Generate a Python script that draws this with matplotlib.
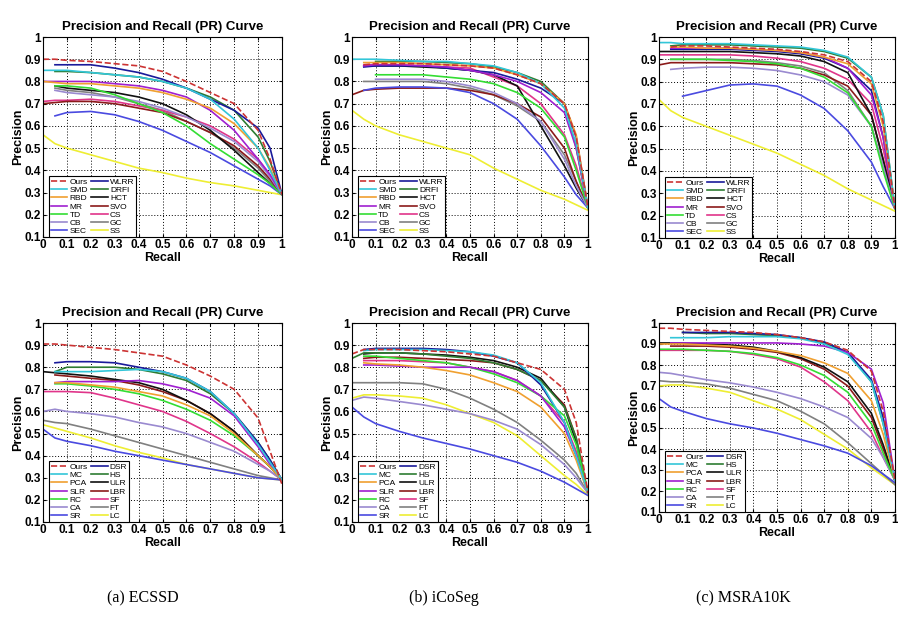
import numpy as np
import matplotlib
matplotlib.use("Agg")
import matplotlib.pyplot as plt

plt.rcParams['font.family'] = ['Liberation Sans', 'DejaVu Sans']

# recall grid shared by every curve (None = curve not drawn there)
recall = [0, 0.05, 0.1, 0.2, 0.3, 0.4, 0.5, 0.6, 0.7, 0.8, 0.9, 0.95, 1.0]

methods_top = ["Ours", "SMD", "RBD", "MR", "TD", "CB", "SEC",
               "WLRR", "DRFI", "HCT", "SVO", "CS", "GC", "SS"]
methods_bottom = ["Ours", "MC", "PCA", "SLR", "RC", "CA", "SR",
                  "DSR", "HS", "ULR", "LBR", "SF", "FT", "LC"]

colors = ["#cc3333", "#33c6d8", "#f0a030", "#a020d0", "#33dd33", "#9a8ad0", "#4a4ae0",
          "#1a1a9a", "#2e7d32", "#111111", "#8b1a1a", "#e0358a", "#808080", "#eeee33"]

captions = ["(a) ECSSD", "(b) iCoSeg", "(c) MSRA10K"]

ecssd_top = {
    "Ours": [0.90, 0.90, 0.895, 0.89, 0.88, 0.87, 0.845, 0.80, 0.75, 0.70, 0.58, 0.45, 0.29],
    "SMD":  [0.85, 0.85, 0.85, 0.84, 0.83, 0.82, 0.80, 0.77, 0.72, 0.63, 0.50, 0.40, 0.29],
    "RBD":  [0.80, 0.795, 0.79, 0.79, 0.78, 0.77, 0.75, 0.72, 0.68, 0.61, 0.50, 0.41, 0.29],
    "MR":   [0.80, 0.80, 0.80, 0.80, 0.79, 0.78, 0.76, 0.73, 0.67, 0.58, 0.45, 0.38, 0.29],
    "TD":   [None, 0.78, 0.78, 0.77, 0.74, 0.70, 0.66, 0.60, 0.52, 0.45, 0.38, 0.34, 0.29],
    "CB":   [None, 0.76, 0.75, 0.74, 0.73, 0.71, 0.68, 0.64, 0.59, 0.53, 0.44, 0.37, 0.29],
    "SEC":  [None, 0.645, 0.66, 0.665, 0.65, 0.62, 0.58, 0.53, 0.48, 0.42, 0.36, 0.33, 0.29],
    "WLRR": [None, 0.875, 0.875, 0.875, 0.86, 0.84, 0.81, 0.77, 0.72, 0.67, 0.59, 0.50, 0.29],
    "DRFI": [None, 0.845, 0.845, 0.84, 0.83, 0.82, 0.80, 0.77, 0.73, 0.67, 0.55, 0.44, 0.29],
    "HCT":  [None, 0.78, 0.77, 0.76, 0.75, 0.73, 0.70, 0.65, 0.58, 0.49, 0.39, 0.34, 0.29],
    "SVO":  [0.70, 0.705, 0.71, 0.71, 0.70, 0.68, 0.66, 0.62, 0.57, 0.51, 0.42, 0.36, 0.29],
    "CS":   [0.71, 0.715, 0.715, 0.72, 0.71, 0.69, 0.67, 0.64, 0.60, 0.54, 0.45, 0.38, 0.29],
    "GC":   [None, 0.77, 0.76, 0.75, 0.73, 0.70, 0.67, 0.62, 0.57, 0.50, 0.41, 0.35, 0.29],
    "SS":   [0.56, 0.52, 0.50, 0.47, 0.44, 0.41, 0.39, 0.365, 0.345, 0.33, 0.31, 0.30, 0.29],
}

icoseg_top = {
    "Ours": [None, 0.875, 0.88, 0.88, 0.88, 0.875, 0.87, 0.86, 0.83, 0.79, 0.70, 0.55, 0.23],
    "SMD":  [0.90, 0.90, 0.90, 0.895, 0.89, 0.89, 0.88, 0.87, 0.84, 0.79, 0.68, 0.52, 0.23],
    "RBD":  [None, 0.885, 0.885, 0.885, 0.88, 0.875, 0.87, 0.86, 0.83, 0.79, 0.70, 0.56, 0.23],
    "MR":   [None, 0.87, 0.875, 0.875, 0.87, 0.865, 0.85, 0.83, 0.80, 0.75, 0.66, 0.50, 0.23],
    "TD":   [None, None, 0.83, 0.83, 0.83, 0.82, 0.81, 0.79, 0.75, 0.68, 0.55, 0.40, 0.23],
    "CB":   [None, None, 0.81, 0.81, 0.81, 0.80, 0.78, 0.75, 0.70, 0.62, 0.45, 0.33, 0.23],
    "SEC":  [None, 0.76, 0.77, 0.775, 0.775, 0.77, 0.75, 0.70, 0.63, 0.51, 0.37, 0.29, 0.23],
    "WLRR": [None, 0.865, 0.87, 0.87, 0.87, 0.86, 0.85, 0.84, 0.81, 0.77, 0.70, 0.55, 0.23],
    "DRFI": [None, None, 0.89, 0.89, 0.89, 0.885, 0.88, 0.865, 0.84, 0.80, 0.70, 0.50, 0.23],
    "HCT":  [None, 0.87, 0.87, 0.87, 0.865, 0.86, 0.85, 0.83, 0.78, 0.60, 0.42, 0.32, 0.23],
    "SVO":  [0.74, 0.76, 0.765, 0.77, 0.77, 0.77, 0.76, 0.74, 0.70, 0.64, 0.50, 0.35, 0.23],
    "CS":   [None, 0.875, 0.875, 0.875, 0.87, 0.865, 0.86, 0.82, 0.78, 0.70, 0.56, 0.42, 0.23],
    "GC":   [None, 0.80, 0.80, 0.80, 0.80, 0.79, 0.77, 0.74, 0.69, 0.62, 0.47, 0.35, 0.23],
    "SS":   [0.67, 0.63, 0.60, 0.56, 0.53, 0.50, 0.47, 0.41, 0.36, 0.31, 0.27, 0.245, 0.22],
}

msra_top = {
    "Ours": [None, 0.955, 0.96, 0.96, 0.955, 0.95, 0.945, 0.935, 0.92, 0.89, 0.80, 0.62, 0.23],
    "SMD":  [0.975, 0.975, 0.97, 0.97, 0.97, 0.965, 0.96, 0.955, 0.94, 0.91, 0.82, 0.65, 0.23],
    "RBD":  [None, 0.955, 0.955, 0.95, 0.95, 0.945, 0.94, 0.93, 0.91, 0.88, 0.79, 0.60, 0.23],
    "MR":   [None, 0.95, 0.95, 0.95, 0.95, 0.945, 0.94, 0.93, 0.91, 0.86, 0.74, 0.55, 0.23],
    "TD":   [None, 0.90, 0.90, 0.90, 0.895, 0.89, 0.88, 0.86, 0.82, 0.75, 0.60, 0.40, 0.23],
    "CB":   [None, 0.855, 0.86, 0.865, 0.865, 0.86, 0.85, 0.83, 0.80, 0.74, 0.60, 0.42, 0.23],
    "SEC":  [None, None, 0.735, 0.76, 0.785, 0.79, 0.78, 0.74, 0.68, 0.58, 0.44, 0.33, 0.23],
    "WLRR": [None, 0.945, 0.945, 0.945, 0.945, 0.94, 0.935, 0.925, 0.905, 0.86, 0.76, 0.55, 0.23],
    "DRFI": [None, 0.96, 0.965, 0.965, 0.965, 0.96, 0.955, 0.95, 0.935, 0.905, 0.82, 0.65, 0.23],
    "HCT":  [0.935, 0.935, 0.935, 0.935, 0.935, 0.93, 0.925, 0.915, 0.89, 0.84, 0.65, 0.45, 0.23],
    "SVO":  [0.875, 0.885, 0.885, 0.885, 0.885, 0.88, 0.875, 0.86, 0.83, 0.78, 0.65, 0.45, 0.23],
    "CS":   [0.92, 0.92, 0.92, 0.92, 0.92, 0.915, 0.905, 0.89, 0.86, 0.81, 0.70, 0.50, 0.23],
    "GC":   [None, 0.90, 0.90, 0.90, 0.90, 0.895, 0.885, 0.87, 0.84, 0.76, 0.60, 0.42, 0.23],
    "SS":   [0.72, 0.67, 0.64, 0.60, 0.56, 0.52, 0.48, 0.43, 0.38, 0.32, 0.27, 0.245, 0.22],
}

ecssd_bottom = {
    "Ours": [0.905, 0.905, 0.90, 0.89, 0.88, 0.865, 0.85, 0.81, 0.76, 0.70, 0.57, 0.42, 0.27],
    "MC":   [None, 0.78, 0.78, 0.78, 0.785, 0.79, 0.78, 0.75, 0.69, 0.59, 0.45, 0.37, 0.29],
    "PCA":  [None, 0.73, 0.73, 0.72, 0.71, 0.69, 0.67, 0.63, 0.58, 0.50, 0.40, 0.35, 0.29],
    "SLR":  [None, 0.73, 0.735, 0.735, 0.735, 0.74, 0.725, 0.70, 0.66, 0.58, 0.44, 0.36, 0.29],
    "RC":   [None, 0.725, 0.725, 0.715, 0.70, 0.68, 0.65, 0.61, 0.56, 0.49, 0.40, 0.35, 0.29],
    "CA":   [0.60, 0.61, 0.60, 0.59, 0.575, 0.55, 0.53, 0.50, 0.46, 0.42, 0.36, 0.33, 0.29],
    "SR":   [0.52, 0.48, 0.465, 0.445, 0.42, 0.40, 0.38, 0.36, 0.34, 0.32, 0.30, 0.295, 0.29],
    "DSR":  [None, 0.82, 0.825, 0.825, 0.82, 0.80, 0.78, 0.75, 0.69, 0.59, 0.46, 0.38, 0.29],
    "HS":   [None, 0.78, 0.80, 0.80, 0.80, 0.79, 0.77, 0.74, 0.68, 0.59, 0.46, 0.38, 0.29],
    "ULR":  [0.78, 0.775, 0.77, 0.76, 0.745, 0.73, 0.70, 0.65, 0.59, 0.51, 0.40, 0.35, 0.29],
    "LBR":  [None, 0.765, 0.76, 0.75, 0.74, 0.72, 0.69, 0.65, 0.59, 0.51, 0.40, 0.35, 0.29],
    "SF":   [0.69, 0.69, 0.69, 0.685, 0.66, 0.63, 0.60, 0.555, 0.50, 0.44, 0.37, 0.33, 0.29],
    "FT":   [0.56, 0.55, 0.545, 0.52, 0.49, 0.46, 0.43, 0.40, 0.37, 0.34, 0.31, 0.30, 0.29],
    "LC":   [0.54, 0.525, 0.51, 0.48, 0.445, 0.415, 0.39, 0.36, 0.34, 0.32, 0.30, 0.295, 0.29],
}

icoseg_bottom = {
    "Ours": [0.86, 0.88, 0.88, 0.88, 0.875, 0.87, 0.86, 0.85, 0.82, 0.79, 0.70, 0.55, 0.23],
    "MC":   [None, 0.875, 0.88, 0.88, 0.88, 0.875, 0.87, 0.855, 0.82, 0.73, 0.55, 0.40, 0.23],
    "PCA":  [None, 0.82, 0.815, 0.81, 0.80, 0.785, 0.765, 0.73, 0.69, 0.62, 0.50, 0.38, 0.23],
    "SLR":  [None, 0.81, 0.81, 0.805, 0.80, 0.80, 0.80, 0.78, 0.74, 0.67, 0.53, 0.40, 0.23],
    "RC":   [None, 0.85, 0.85, 0.84, 0.83, 0.82, 0.80, 0.77, 0.73, 0.67, 0.58, 0.45, 0.23],
    "CA":   [0.65, 0.665, 0.66, 0.645, 0.63, 0.61, 0.59, 0.56, 0.52, 0.45, 0.36, 0.30, 0.23],
    "SR":   [0.62, 0.575, 0.545, 0.51, 0.48, 0.455, 0.43, 0.40, 0.37, 0.33, 0.28, 0.25, 0.22],
    "DSR":  [None, 0.88, 0.885, 0.885, 0.885, 0.88, 0.87, 0.85, 0.82, 0.72, 0.55, 0.40, 0.23],
    "HS":   [0.84, 0.865, 0.865, 0.865, 0.86, 0.85, 0.84, 0.82, 0.79, 0.74, 0.62, 0.48, 0.23],
    "ULR":  [None, 0.86, 0.865, 0.865, 0.86, 0.855, 0.845, 0.83, 0.80, 0.75, 0.62, 0.46, 0.23],
    "LBR":  [None, 0.84, 0.845, 0.845, 0.84, 0.835, 0.83, 0.82, 0.79, 0.74, 0.63, 0.48, 0.23],
    "SF":   [None, 0.83, 0.83, 0.83, 0.825, 0.82, 0.80, 0.78, 0.74, 0.67, 0.55, 0.42, 0.23],
    "FT":   [0.73, 0.73, 0.73, 0.73, 0.725, 0.70, 0.66, 0.61, 0.55, 0.47, 0.38, 0.32, 0.23],
    "LC":   [0.66, 0.675, 0.675, 0.67, 0.66, 0.63, 0.59, 0.55, 0.49, 0.40, 0.31, 0.27, 0.22],
}

msra_bottom = {
    "Ours": [0.975, 0.975, 0.97, 0.965, 0.96, 0.955, 0.945, 0.93, 0.91, 0.87, 0.77, 0.58, 0.25],
    "MC":   [None, 0.93, 0.93, 0.93, 0.935, 0.935, 0.935, 0.925, 0.90, 0.85, 0.72, 0.52, 0.25],
    "PCA":  [0.90, 0.90, 0.90, 0.895, 0.89, 0.88, 0.865, 0.845, 0.81, 0.76, 0.63, 0.47, 0.25],
    "SLR":  [None, 0.905, 0.905, 0.905, 0.905, 0.905, 0.905, 0.90, 0.89, 0.86, 0.78, 0.62, 0.25],
    "RC":   [0.875, 0.875, 0.875, 0.87, 0.865, 0.855, 0.835, 0.80, 0.75, 0.67, 0.52, 0.38, 0.25],
    "CA":   [0.765, 0.76, 0.75, 0.73, 0.715, 0.695, 0.67, 0.64, 0.60, 0.55, 0.45, 0.36, 0.25],
    "SR":   [0.64, 0.60, 0.58, 0.545, 0.52, 0.50, 0.475, 0.445, 0.415, 0.38, 0.32, 0.28, 0.24],
    "DSR":  [None, None, 0.955, 0.955, 0.955, 0.95, 0.945, 0.93, 0.91, 0.86, 0.73, 0.55, 0.25],
    "HS":   [None, None, 0.955, 0.95, 0.95, 0.945, 0.94, 0.93, 0.905, 0.86, 0.72, 0.52, 0.25],
    "ULR":  [0.905, 0.905, 0.905, 0.90, 0.895, 0.885, 0.865, 0.835, 0.79, 0.72, 0.57, 0.42, 0.25],
    "LBR":  [None, 0.89, 0.89, 0.89, 0.885, 0.875, 0.86, 0.83, 0.78, 0.70, 0.55, 0.40, 0.25],
    "SF":   [0.87, 0.87, 0.87, 0.87, 0.865, 0.85, 0.83, 0.79, 0.72, 0.63, 0.48, 0.36, 0.25],
    "FT":   [0.725, 0.72, 0.72, 0.71, 0.69, 0.66, 0.63, 0.58, 0.52, 0.43, 0.33, 0.28, 0.23],
    "LC":   [0.70, 0.705, 0.705, 0.69, 0.67, 0.63, 0.59, 0.54, 0.47, 0.40, 0.31, 0.27, 0.23],
}

W, H = 898, 621
fig = plt.figure(figsize=(W / 100, H / 100), dpi=100)

# axes boxes in pixels: left, top, right, bottom
boxes = [
    (43, 37, 282, 237), (352, 37, 588, 237), (659, 37, 895, 238),
    (43, 323, 282, 522), (352, 323, 588, 522), (659, 323, 895, 512),
]
panels = [
    (ecssd_top, methods_top), (icoseg_top, methods_top), (msra_top, methods_top),
    (ecssd_bottom, methods_bottom), (icoseg_bottom, methods_bottom), (msra_bottom, methods_bottom),
]

for (l, t, r, b), (data, names) in zip(boxes, panels):
    ax = fig.add_axes([l / W, 1 - b / H, (r - l) / W, (b - t) / H])
    # draw in reverse so "Ours" ends up on top
    for i in reversed(range(len(names))):
        name = names[i]
        p = np.array([np.nan if v is None else v for v in data[name]], dtype=float)
        ls = '--' if name == "Ours" else '-'
        ax.plot(recall, p, ls, color=colors[i], lw=1.2, label=name)
    ax.set_xlim(0, 1)
    ax.set_ylim(0.1, 1)
    xt = np.round(np.arange(0, 1.01, 0.1), 1)
    yt = np.round(np.arange(0.1, 1.01, 0.1), 1)
    ax.set_xticks(xt)
    ax.set_yticks(yt)
    ax.set_xticklabels([f"{v:g}" for v in xt], fontsize=8.5, fontweight='bold')
    ax.set_yticklabels([f"{v:g}" for v in yt], fontsize=8.5, fontweight='bold')
    ax.tick_params(direction='in', length=2, pad=1.5, top=True, right=True)
    ax.grid(True, color='black', linestyle=(0, (1, 2)), lw=0.7)
    ax.set_title("Precision and Recall (PR) Curve", fontsize=9.5, fontweight='bold', pad=5)
    ax.set_xlabel("Recall", fontsize=9, fontweight='bold', labelpad=0.5)
    ax.set_ylabel("Precision", fontsize=9, fontweight='bold', labelpad=0)
    for sp in ax.spines.values():
        sp.set_linewidth(0.8)
    handles, labels = ax.get_legend_handles_labels()
    order = [labels.index(n) for n in names]
    leg = ax.legend([handles[k] for k in order], [labels[k] for k in order],
                    ncol=2, loc='lower left', bbox_to_anchor=(0.025, 0.0),
                    borderaxespad=0, fontsize=6, handlelength=2.0,
                    handletextpad=0.25, labelspacing=0.05, columnspacing=0.4,
                    borderpad=0.2, fancybox=False, framealpha=1)
    leg.get_frame().set_edgecolor('black')
    leg.get_frame().set_linewidth(0.8)

for x, txt in zip([143, 444, 743], captions):
    fig.text(x / W, 1 - 598 / H, txt, ha='center', va='center', fontsize=11.5,
             family=['Liberation Serif', 'DejaVu Serif'])

fig.savefig("out.png", dpi=100)
